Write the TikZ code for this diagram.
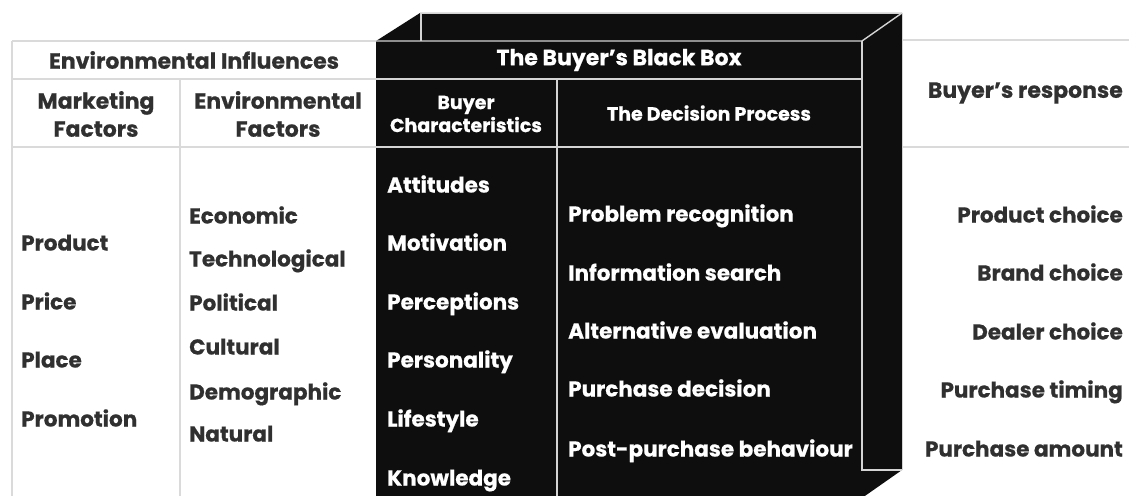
\documentclass[tikz,border=0pt]{standalone}
\usepackage{fontspec}
\setmainfont{Poppins}[BoldFeatures={FakeBold=0.6}]
\definecolor{ink}{HTML}{303030}
\definecolor{boxfill}{HTML}{0E0E0E}
\definecolor{edgegray}{HTML}{D4D4D4}
\definecolor{gridgray}{HTML}{DADADA}
\begin{document}
\begin{tikzpicture}[x=1pt,y=-1pt,
  grid/.style={draw=gridgray, line width=1.4pt},
  edge/.style={draw=edgegray, line width=1.4pt},
  item/.style={inner sep=0pt, text height=0.7em, text depth=0pt,
    font=\bfseries\fontsize{21.5}{24}\selectfont, text=ink},
  darkitem/.style={item, text=white},
  headtxt/.style={inner sep=0pt, align=center,
    font=\bfseries\fontsize{22}{28}\selectfont, text=ink},
  smallhead/.style={inner sep=0pt, align=center,
    font=\bfseries\fontsize{19}{23}\selectfont, text=white}
]
\useasboundingbox (0,0) rectangle (1129,495);
\clip (0,0) rectangle (1129,495);

% the black box: front, top and side faces
\fill[boxfill] (376,41) -- (420,13) -- (902,13) -- (902,470) -- (862,498)
  -- (862,500) -- (376,500) -- cycle;
\draw[edgegray, line width=0.6pt] (420,13) -- (902,13) -- (902,470);
\draw[edge] (376,41) -- (862,41) -- (902,13);
\draw[edge] (421,13) -- (421,41);
\draw[edge] (862,41) -- (862,470) -- (902,470);
\draw[edge] (376,79) -- (862,79);
\draw[edge] (376,147) -- (862,147);
\draw[edge] (557,79) -- (557,500);

% table rules, left part
\draw[grid] (12,41) -- (376,41);
\draw[grid] (12,79) -- (376,79);
\draw[grid] (12,147) -- (376,147);
\draw[grid] (12,41) -- (12,500);
\draw[grid] (180,79) -- (180,500);
% table rules, right part
\draw[grid] (903,40) -- (1129,40);
\draw[grid] (903,147) -- (1129,147);

% headers
\node[headtxt] (envinf) at (194,60) {Environmental Influences};
\node[headtxt] (mkthead) at (96,114) {Marketing\\Factors};
\node[headtxt] (envhead) at (278,114) {Environmental\\Factors};
\node[headtxt, text=white] (boxhead) at (619,60) {The Buyer’s Black Box};
\node[smallhead] (charhead) at (466,114) {Buyer\\Characteristics};
\node[smallhead] (dechead) at (709,113) {The Decision Process};
\node[headtxt, anchor=east] (resphead) at (1123,93) {Buyer’s response};

% marketing factors
\node[item, anchor=west] (m1) at (21,247) {Product};
\node[item, anchor=west] (m2) at (21,306) {Price};
\node[item, anchor=west] (m3) at (21,364) {Place};
\node[item, anchor=west] (m4) at (21,423) {Promotion};

% environmental factors
\node[item, anchor=west] (e1) at (189,220) {Economic};
\node[item, anchor=west] (e2) at (189,263) {Technological};
\node[item, anchor=west] (e3) at (189,307) {Political};
\node[item, anchor=west] (e4) at (189,351) {Cultural};
\node[item, anchor=west] (e5) at (189,396) {Demographic};
\node[item, anchor=west] (e6) at (189,438) {Natural};

% buyer characteristics
\node[darkitem, anchor=west] (c1) at (387,189) {Attitudes};
\node[darkitem, anchor=west] (c2) at (387,247) {Motivation};
\node[darkitem, anchor=west] (c3) at (387,306) {Perceptions};
\node[darkitem, anchor=west] (c4) at (387,364) {Personality};
\node[darkitem, anchor=west] (c5) at (387,423) {Lifestyle};
\node[darkitem, anchor=west] (c6) at (387,482) {Knowledge};

% decision process
\node[darkitem, anchor=west] (d1) at (568,218) {Problem recognition};
\node[darkitem, anchor=west] (d2) at (568,277) {Information search};
\node[darkitem, anchor=west] (d3) at (568,335) {Alternative evaluation};
\node[darkitem, anchor=west] (d4) at (568,393) {Purchase decision};
\node[darkitem, anchor=west] (d5) at (568,453) {Post-purchase behaviour};

% buyer's response
\node[item, anchor=east] (r1) at (1123,219) {Product choice};
\node[item, anchor=east] (r2) at (1123,277) {Brand choice};
\node[item, anchor=east] (r3) at (1123,336) {Dealer choice};
\node[item, anchor=east] (r4) at (1123,394) {Purchase timing};
\node[item, anchor=east] (r5) at (1123,453) {Purchase amount};
\end{tikzpicture}
\end{document}
